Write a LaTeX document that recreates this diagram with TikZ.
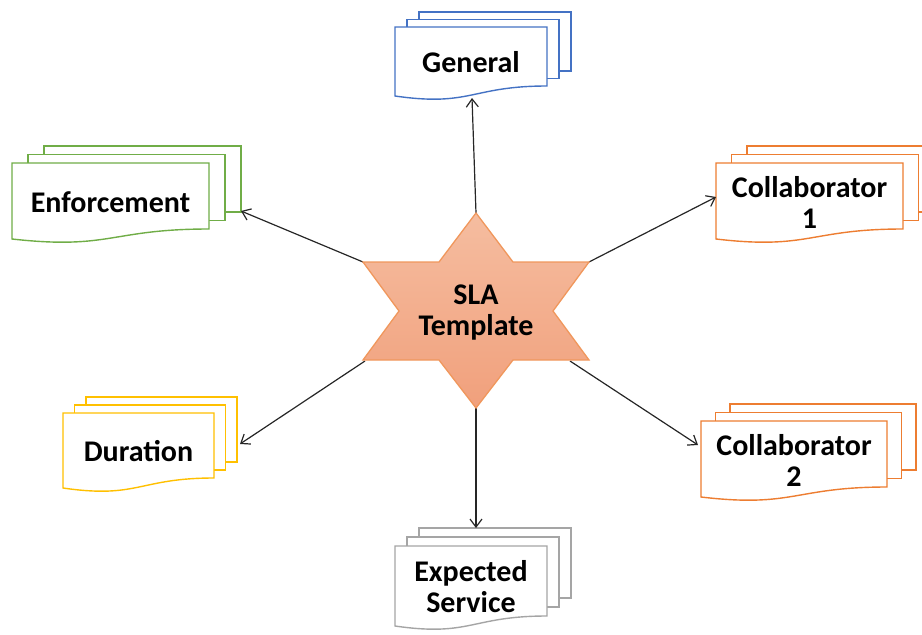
\documentclass[tikz,border=0pt]{standalone}
\usepackage{fontspec}
\setmainfont{Carlito}
\usetikzlibrary{arrows.meta}

\definecolor{docblue}{HTML}{4472C4}
\definecolor{docgreen}{HTML}{70AD47}
\definecolor{docorange}{HTML}{ED7D31}
\definecolor{docyellow}{HTML}{FFC000}
\definecolor{docgray}{HTML}{A5A5A5}
\definecolor{startop}{HTML}{F5BDA0}
\definecolor{starbottom}{HTML}{F1A07C}
\definecolor{starline}{HTML}{F0975C}
\definecolor{linkcol}{HTML}{262626}

\tikzset{
  docpage/.style={line width=1.4pt, fill=white, line join=miter},
  doclabel/.style={font=\fontsize{30}{31}\selectfont\bfseries, align=center, inner sep=0pt},
  link/.style={draw=linkcol, line width=1.2pt, -{Straight Barb[length=8pt,width=12pt,line width=1.2pt]}},
  starshape/.style={draw=starline, line width=1.3pt, top color=startop, bottom color=starbottom},
}

% stack of three pages: #1 name, #2 x, #3 y (front page top left), #4 width,
% #5 page height, #6 horizontal step, #7 vertical step, #8 colour, #9 label
\newcommand\docstack[9]{%
  \begin{scope}[shift={(#2,#3)}]
    \draw[docpage, draw=#8] (2*#6,-2*#7) rectangle ++(#4,#5);
    \draw[docpage, draw=#8] (#6,-#7) rectangle ++(#4,#5);
    \draw[docpage, draw=#8] (0,0) -- (#4,0) -- (#4,#5)
      .. controls (0.5*#4,#5) and (0.5*#4,#5+21) .. (0,#5+10) -- cycle;
    \node[doclabel] (#1) at (0.5*#4,0.5*#5+6) {#9};
  \end{scope}}

\begin{document}
\begin{tikzpicture}[x=1pt,y=-1pt]
  \path[use as bounding box] (0,0) rectangle (922,635);

  % document stacks
  \docstack{general}{395}{27}{152}{59}{12}{7.5}{docblue}{General}
  \docstack{enforce}{12}{163}{197}{66}{16}{8.5}{docgreen}{Enforcement}
  \docstack{collabA}{716}{163}{187}{66}{15.5}{8.5}{docorange}{Collaborator\\1}
  \docstack{collabB}{701}{421}{186}{66}{14.5}{8.5}{docorange}{Collaborator\\2}
  \docstack{duration}{63}{413}{151}{65}{11.5}{8}{docyellow}{Duration}
  \docstack{expected}{395}{546}{152}{70}{12}{9}{docgray}{Expected\\Service}

  % six-pointed star
  \coordinate (star-n)  at (476,213);
  \coordinate (star-ne) at (589,262);
  \coordinate (star-se) at (589,360);
  \coordinate (star-s)  at (476,408);
  \coordinate (star-sw) at (363,360);
  \coordinate (star-nw) at (363,262);
  \coordinate (star-se-edge) at (570,361);
  \coordinate (star-sw-edge) at (365,361);

  % arrow ends on the stacks
  \coordinate (general-in)  at (472,98);
  \coordinate (enforce-in)  at (241,211);
  \coordinate (collabA-in)  at (716,197);
  \coordinate (collabB-in)  at (698,445);
  \coordinate (duration-in) at (240,444);
  \coordinate (expected-in) at (476,528);

  \draw[link] (star-n) -- (general-in);
  \draw[link] (star-nw) -- (enforce-in);
  \draw[link] (star-ne) -- (collabA-in);
  \draw[link] (star-se-edge) -- (collabB-in);
  \draw[link] (star-sw-edge) -- (duration-in);
  \draw[link] (star-s) -- (expected-in);

  \path[starshape] (star-n) -- (513,262) -- (star-ne) -- (553,311) -- (star-se)
    -- (513,360) -- (star-s) -- (439,360) -- (star-sw) -- (399,311)
    -- (star-nw) -- (439,262) -- cycle;
  \node[doclabel] (sla) at (476,313) {SLA\\Template};
\end{tikzpicture}
\end{document}
